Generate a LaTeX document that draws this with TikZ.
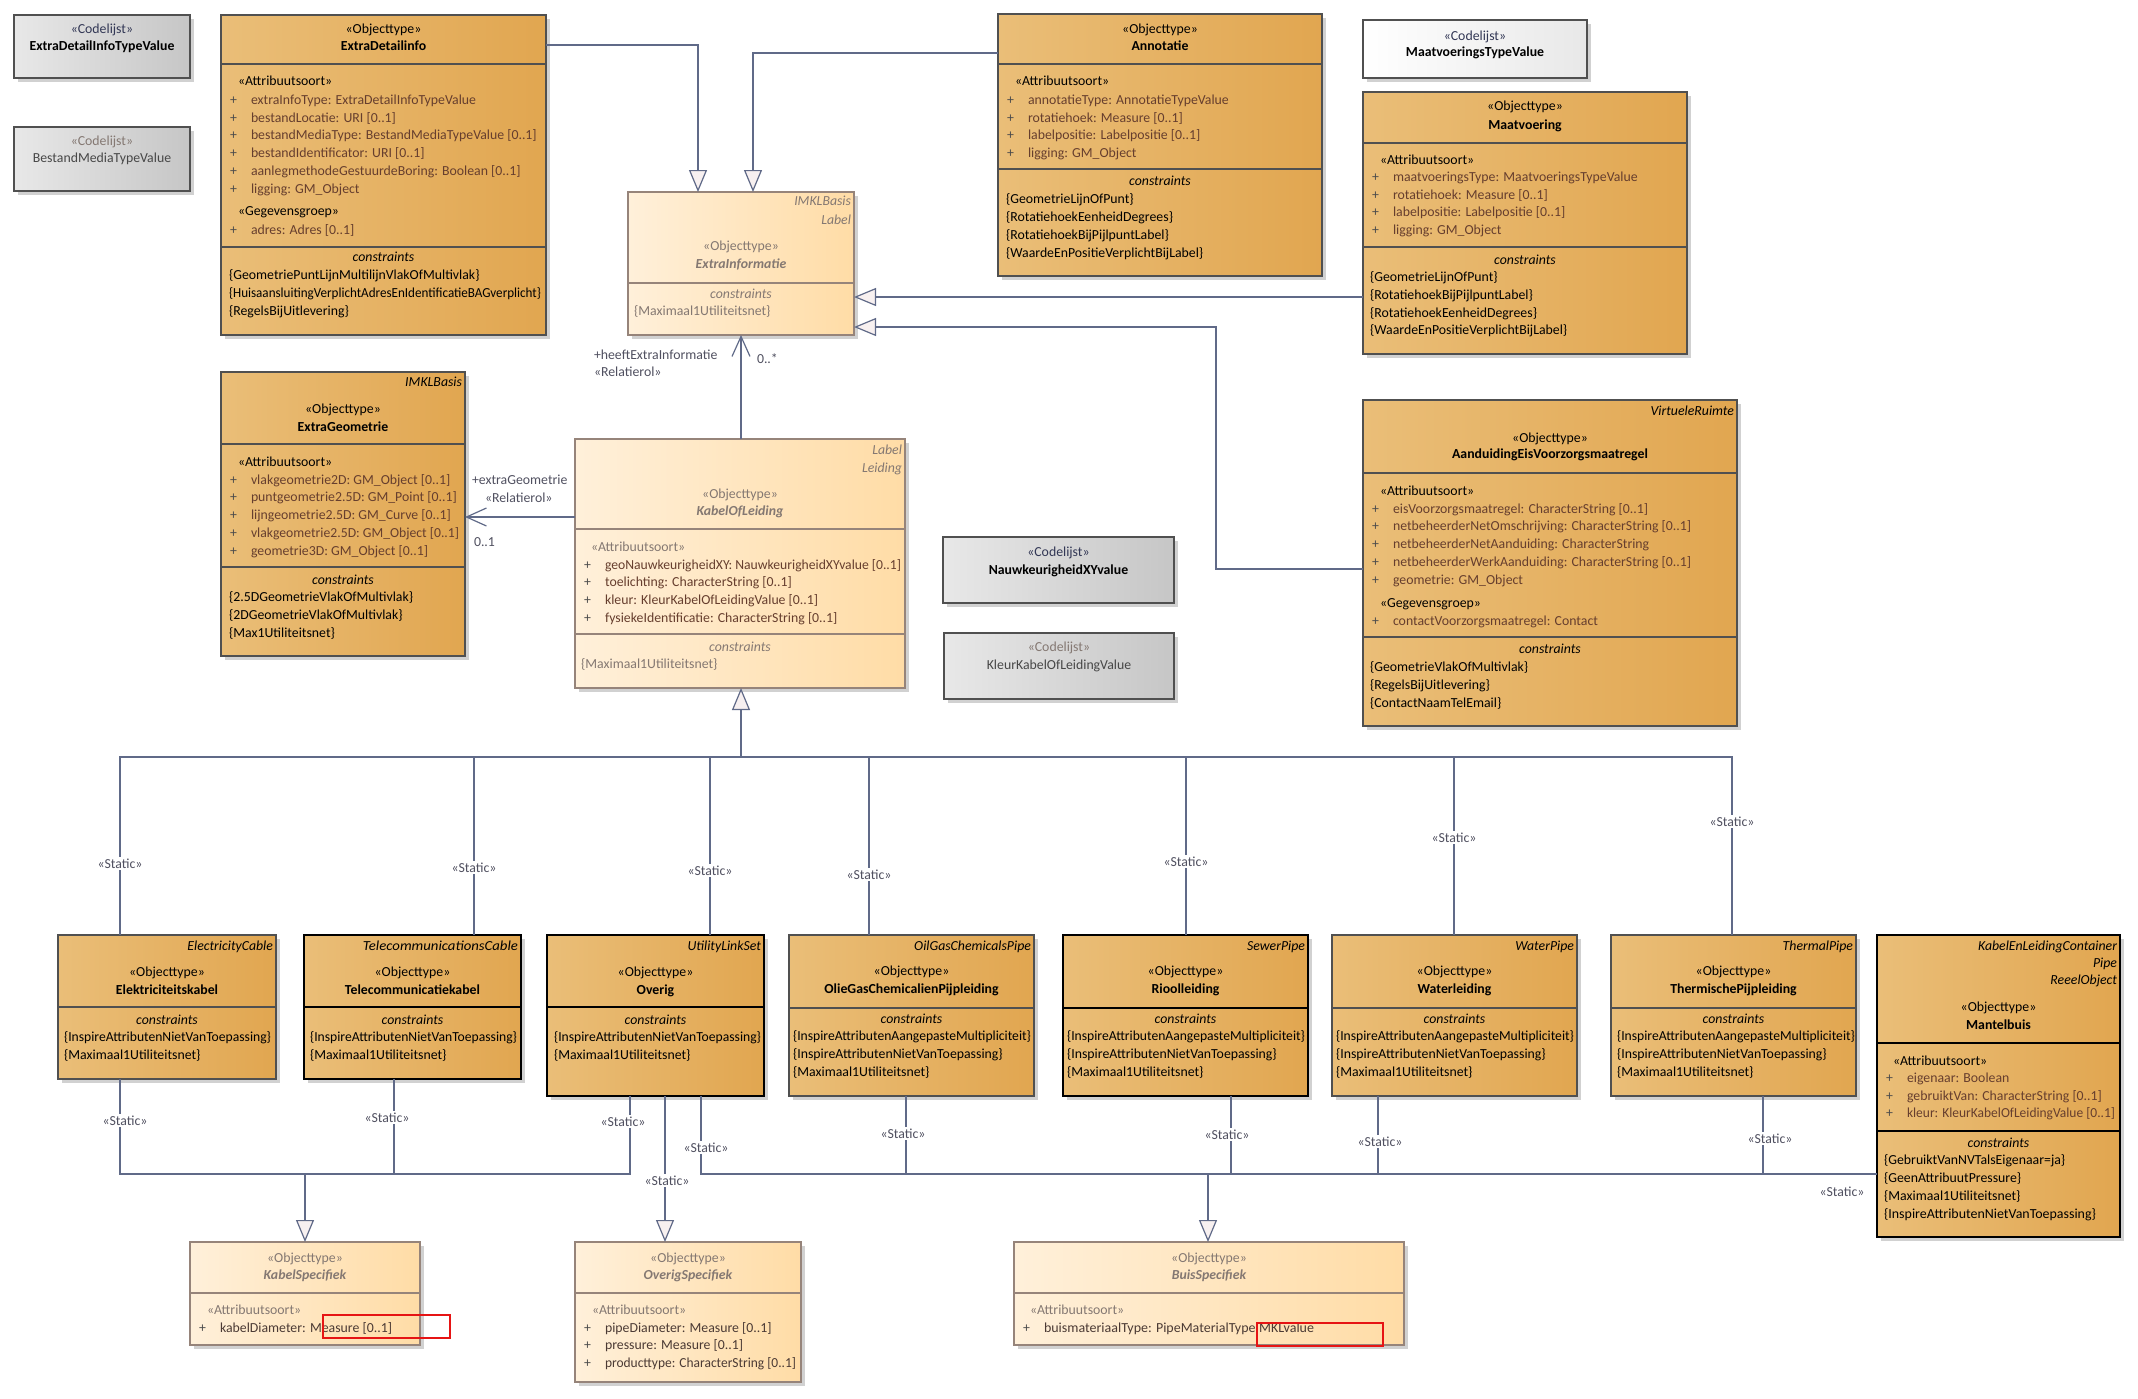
\documentclass[tikz,border=0pt]{standalone}
\usepackage{fontspec}
\setmainfont{Carlito}
\usepackage{graphicx}
\usetikzlibrary{arrows.meta,shadows}
\definecolor{orL}{RGB}{234,190,120}
\definecolor{orR}{RGB}{225,166,80}
\definecolor{peL}{RGB}{255,240,218}
\definecolor{peR}{RGB}{255,220,166}
\definecolor{grL}{RGB}{232,232,232}
\definecolor{grR}{RGB}{198,198,198}
\definecolor{bord}{RGB}{80,80,80}
\definecolor{pbord}{RGB}{150,132,122}
\definecolor{conn}{RGB}{96,106,136}
\definecolor{attrc}{RGB}{102,62,46}
\definecolor{attrd}{RGB}{75,58,52}
\definecolor{gtx}{RGB}{132,120,114}
\definecolor{trif}{RGB}{247,240,240}
\definecolor{lblc}{RGB}{80,80,96}
\definecolor{cdl}{RGB}{50,55,85}
\definecolor{redc}{RGB}{230,20,20}
\newcommand\fnt{\fontsize{13.8}{18}\selectfont}
\newcounter{tn}
\newcommand\Tx[3]{\stepcounter{tn}\node[#1] (tx\thetn) at (#2) {#3};}
\newcommand\Pl[4]{\Tx{ulw,pls}{#1+9,#2}{+}\Tx{ulw,#3}{#1+30,#2}{#4}}
\newcommand\Bx[6]{\node[#1,minimum width=#4pt,minimum height=#5pt] (#6) at (#2,#3) {};}
\newcommand\Dv[3][]{\draw[divl,#1] (#2.west |- 0,#3) -- (#2.east |- 0,#3);}
\newcommand\sqz[2]{\resizebox{#1}{\height}{#2}}
\begin{document}
\begin{tikzpicture}[x=1pt,y=-1pt,
 ubase/.style={inner sep=0pt,outer sep=0pt,font=\fnt,text=black},
 ulw/.style={ubase,anchor=mid west},
 uct/.style={ubase,anchor=mid},
 urt/.style={ubase,anchor=mid east},
 pls/.style={text=black!70},
 atr/.style={text=attrc},
 atd/.style={text=attrd},
 nm/.style={font=\fnt\bfseries},
 uit/.style={font=\fnt\itshape},
 bit/.style={font=\fnt\bfseries\itshape},
 gx/.style={text=gtx},
 ubox/.style={draw=bord,line width=1.2pt,inner sep=0pt,outer sep=0pt,anchor=north west,
   drop shadow={shadow xshift=4pt,shadow yshift=-4pt,fill=black!18,opacity=1}},
 obj/.style={ubox,left color=orL,right color=orR},
 pea/.style={ubox,draw=pbord,left color=peL,right color=peR},
 cod/.style={ubox,left color=grL,right color=grR},
 codw/.style={ubox,left color=white,right color=black!9},
 sel/.style={draw=black,line width=2pt},
 divl/.style={draw=bord,line width=1.2pt},
 pdiv/.style={draw=pbord},
 cn/.style={draw=conn,line width=1.2pt},
 gen/.style={cn,-{Triangle[length=22pt,width=18pt,fill=trif]}},
 asc/.style={cn,-{Straight Barb[length=20pt,width=18pt]}},
 stl/.style={ubase,anchor=mid,fill=white,text=lblc,inner sep=1.5pt},
 lbl/.style={ulw,text=lblc},
 redbox/.style={draw=redc,line width=1.3pt,anchor=north west,inner sep=0pt,outer sep=0pt}
]
\useasboundingbox (0,0) rectangle (2138,1398);
\fill[white] (0,0) rectangle (2138,1398);

% ---------- code lists ----------
\Bx{cod}{14}{15}{176}{63}{cl1}
\Tx{uct,text=cdl}{cl1.north |- 0,31}{«Codelijst»}
\Tx{uct,nm}{cl1.north |- 0,48}{ExtraDetailInfoTypeValue}
\Bx{cod}{14}{127}{176}{64}{cl2}
\Tx{uct,gx}{cl2.north |- 0,143}{«Codelijst»}
\Tx{uct,text=black!72}{cl2.north |- 0,160}{BestandMediaTypeValue}

% ---------- ExtraDetailinfo ----------
\Bx{obj}{221}{15}{325}{320}{edi}
\Dv{edi}{64}\Dv{edi}{247}
\Tx{uct}{edi.north |- 0,31}{«Objecttype»}
\Tx{uct,nm}{edi.north |- 0,48}{ExtraDetailinfo}
\Tx{ulw}{238,83}{«Attribuutsoort»}
\Pl{221}{102}{atr}{extraInfoType: ExtraDetailInfoTypeValue}
\Pl{221}{120}{atr}{bestandLocatie: URI [0..1]}
\Pl{221}{137}{atr}{bestandMediaType: BestandMediaTypeValue [0..1]}
\Pl{221}{155}{atr}{bestandIdentificator: URI [0..1]}
\Pl{221}{173}{atr}{aanlegmethodeGestuurdeBoring: Boolean [0..1]}
\Pl{221}{191}{atr}{ligging: GM\_Object}
\Tx{ulw}{238,213}{«Gegevensgroep»}
\Pl{221}{232}{atr}{adres: Adres [0..1]}
\Tx{uct,uit}{edi.north |- 0,259}{constraints}
\Tx{ulw}{229,277}{\{GeometriePuntLijnMultilijnVlakOfMultivlak\}}
\Tx{ulw}{229,295}{\sqz{312pt}{\{HuisaansluitingVerplichtAdresEnIdentificatieBAGverplicht\}}}
\Tx{ulw}{229,313}{\{RegelsBijUitlevering\}}

% ---------- ExtraInformatie ----------
\Bx{pea}{628}{192}{226}{143}{exi}
\Dv[pdiv]{exi}{283}
\Tx{urt,uit,gx}{851,203}{IMKLBasis}
\Tx{urt,uit,gx}{851,222}{Label}
\Tx{uct,gx}{exi.north |- 0,248}{«Objecttype»}
\Tx{uct,bit,gx}{exi.north |- 0,266}{ExtraInformatie}
\Tx{uct,uit,gx}{exi.north |- 0,296}{constraints}
\Tx{ulw,gx}{634,313}{\{Maximaal1Utiliteitsnet\}}

% ---------- Annotatie ----------
\Bx{obj}{998}{14}{324}{262}{ann}
\Dv{ann}{64}\Dv{ann}{169}
\Tx{uct}{ann.north |- 0,31}{«Objecttype»}
\Tx{uct,nm}{ann.north |- 0,48}{Annotatie}
\Tx{ulw}{1015,83}{«Attribuutsoort»}
\Pl{998}{102}{atr}{annotatieType: AnnotatieTypeValue}
\Pl{998}{120}{atr}{rotatiehoek: Measure [0..1]}
\Pl{998}{137}{atr}{labelpositie: Labelpositie [0..1]}
\Pl{998}{155}{atr}{ligging: GM\_Object}
\Tx{uct,uit}{ann.north |- 0,183}{constraints}
\Tx{ulw}{1006,201}{\{GeometrieLijnOfPunt\}}
\Tx{ulw}{1006,219}{\{RotatiehoekEenheidDegrees\}}
\Tx{ulw}{1006,237}{\{RotatiehoekBijPijlpuntLabel\}}
\Tx{ulw}{1006,255}{\{WaardeEnPositieVerplichtBijLabel\}}

% ---------- Maatvoering ----------
\Bx{codw}{1363}{20}{224}{58}{mtv}
\Tx{uct,text=cdl}{mtv.north |- 0,38}{«Codelijst»}
\Tx{uct,nm}{mtv.north |- 0,54}{MaatvoeringsTypeValue}
\Bx{obj}{1363}{92}{324}{262}{maa}
\Dv{maa}{143}\Dv{maa}{247}
\Tx{uct}{maa.north |- 0,108}{«Objecttype»}
\Tx{uct,nm}{maa.north |- 0,127}{Maatvoering}
\Tx{ulw}{1380,162}{«Attribuutsoort»}
\Pl{1363}{179}{atr}{maatvoeringsType: MaatvoeringsTypeValue}
\Pl{1363}{197}{atr}{rotatiehoek: Measure [0..1]}
\Pl{1363}{214}{atr}{labelpositie: Labelpositie [0..1]}
\Pl{1363}{232}{atr}{ligging: GM\_Object}
\Tx{uct,uit}{maa.north |- 0,262}{constraints}
\Tx{ulw}{1370,279}{\{GeometrieLijnOfPunt\}}
\Tx{ulw}{1370,297}{\{RotatiehoekBijPijlpuntLabel\}}
\Tx{ulw}{1370,315}{\{RotatiehoekEenheidDegrees\}}
\Tx{ulw}{1370,332}{\{WaardeEnPositieVerplichtBijLabel\}}

% ---------- ExtraGeometrie ----------
\Bx{obj}{221}{372}{244}{284}{exg}
\Dv{exg}{444}\Dv{exg}{567}
\Tx{urt,uit}{462,384}{IMKLBasis}
\Tx{uct}{exg.north |- 0,411}{«Objecttype»}
\Tx{uct,nm}{exg.north |- 0,429}{ExtraGeometrie}
\Tx{ulw}{238,464}{«Attribuutsoort»}
\Pl{221}{482}{atr}{vlakgeometrie2D: GM\_Object [0..1]}
\Pl{221}{499}{atr}{puntgeometrie2.5D: GM\_Point [0..1]}
\Pl{221}{517}{atr}{lijngeometrie2.5D: GM\_Curve [0..1]}
\Pl{221}{535}{atr}{\sqz{208pt}{vlakgeometrie2.5D: GM\_Object [0..1]}}
\Pl{221}{553}{atr}{geometrie3D: GM\_Object [0..1]}
\Tx{uct,uit}{exg.north |- 0,582}{constraints}
\Tx{ulw}{229,599}{\{2.5DGeometrieVlakOfMultivlak\}}
\Tx{ulw}{229,617}{\{2DGeometrieVlakOfMultivlak\}}
\Tx{ulw}{229,635}{\{Max1Utiliteitsnet\}}

% ---------- KabelOfLeiding ----------
\Bx{pea}{575}{439}{330}{249}{kol}
\Dv[pdiv]{kol}{529}\Dv[pdiv]{kol}{634}
\Tx{urt,uit,gx}{902,452}{Label}
\Tx{urt,uit,gx}{902,470}{Leiding}
\Tx{uct,gx}{kol.north |- 0,496}{«Objecttype»}
\Tx{uct,bit,gx}{kol.north |- 0,513}{KabelOfLeiding}
\Tx{ulw,gx}{591,549}{«Attribuutsoort»}
\Pl{575}{567}{atr}{\sqz{296pt}{geoNauwkeurigheidXY: NauwkeurigheidXYvalue [0..1]}}
\Pl{575}{584}{atr}{toelichting: CharacterString [0..1]}
\Pl{575}{602}{atr}{kleur: KleurKabelOfLeidingValue [0..1]}
\Pl{575}{620}{atr}{fysiekeIdentificatie: CharacterString [0..1]}
\Tx{uct,uit,gx}{kol.north |- 0,649}{constraints}
\Tx{ulw,gx}{581,666}{\{Maximaal1Utiliteitsnet\}}

% ---------- code lists middle ----------
\Bx{cod}{943}{537}{231}{66}{nxy}
\Tx{uct,text=cdl}{nxy.north |- 0,554}{«Codelijst»}
\Tx{uct,nm}{nxy.north |- 0,572}{NauwkeurigheidXYvalue}
\Bx{cod}{944}{633}{230}{66}{kkl}
\Tx{uct,gx}{kkl.north |- 0,649}{«Codelijst»}
\Tx{uct,text=black!72}{kkl.north |- 0,667}{KleurKabelOfLeidingValue}

% ---------- AanduidingEisVoorzorgsmaatregel ----------
\Bx{obj}{1363}{400}{374}{326}{aev}
\Dv{aev}{473}\Dv{aev}{637}
\Tx{urt,uit}{1734,413}{VirtueleRuimte}
\Tx{uct}{aev.north |- 0,440}{«Objecttype»}
\Tx{uct,nm}{aev.north |- 0,456}{AanduidingEisVoorzorgsmaatregel}
\Tx{ulw}{1380,493}{«Attribuutsoort»}
\Pl{1363}{511}{atr}{eisVoorzorgsmaatregel: CharacterString [0..1]}
\Pl{1363}{528}{atr}{netbeheerderNetOmschrijving: CharacterString [0..1]}
\Pl{1363}{546}{atr}{netbeheerderNetAanduiding: CharacterString}
\Pl{1363}{564}{atr}{netbeheerderWerkAanduiding: CharacterString [0..1]}
\Pl{1363}{582}{atr}{geometrie: GM\_Object}
\Tx{ulw}{1380,605}{«Gegevensgroep»}
\Pl{1363}{623}{atr}{contactVoorzorgsmaatregel: Contact}
\Tx{uct,uit}{aev.north |- 0,651}{constraints}
\Tx{ulw}{1370,669}{\{GeometrieVlakOfMultivlak\}}
\Tx{ulw}{1370,687}{\{RegelsBijUitlevering\}}
\Tx{ulw}{1370,705}{\{ContactNaamTelEmail\}}

% ---------- bottom row ----------
\Bx{obj}{58}{935}{218}{144}{elk}
\Dv{elk}{1007}
\Tx{urt,uit}{273,948}{ElectricityCable}
\Tx{uct}{elk.north |- 0,974}{«Objecttype»}
\Tx{uct,nm}{elk.north |- 0,992}{Elektriciteitskabel}
\Tx{uct,uit}{elk.north |- 0,1022}{constraints}
\Tx{ulw}{64,1039}{\sqz{207pt}{\{InspireAttributenNietVanToepassing\}}}
\Tx{ulw}{64,1057}{\{Maximaal1Utiliteitsnet\}}

\Bx{obj,sel}{304}{935}{217}{144}{tel}
\Dv[sel]{tel}{1007}
\Tx{urt,uit}{518,948}{\sqz{155pt}{TelecommunicationsCable}}
\Tx{uct}{tel.north |- 0,974}{«Objecttype»}
\Tx{uct,nm}{tel.north |- 0,992}{Telecommunicatiekabel}
\Tx{uct,uit}{tel.north |- 0,1022}{constraints}
\Tx{ulw}{310,1039}{\sqz{207pt}{\{InspireAttributenNietVanToepassing\}}}
\Tx{ulw}{310,1057}{\{Maximaal1Utiliteitsnet\}}

\Bx{obj,sel}{547}{935}{217}{161}{ovr}
\Dv[sel]{ovr}{1007}
\Tx{urt,uit}{761,948}{UtilityLinkSet}
\Tx{uct}{ovr.north |- 0,974}{«Objecttype»}
\Tx{uct,nm}{ovr.north |- 0,992}{Overig}
\Tx{uct,uit}{ovr.north |- 0,1022}{constraints}
\Tx{ulw}{554,1039}{\sqz{207pt}{\{InspireAttributenNietVanToepassing\}}}
\Tx{ulw}{554,1057}{\{Maximaal1Utiliteitsnet\}}

\Bx{obj}{789}{935}{245}{161}{ogc}
\Dv{ogc}{1008}
\Tx{urt,uit}{1031,948}{OilGasChemicalsPipe}
\Tx{uct}{ogc.north |- 0,973}{«Objecttype»}
\Tx{uct,nm}{ogc.north |- 0,991}{OlieGasChemicalienPijpleiding}
\Tx{uct,uit}{ogc.north |- 0,1021}{constraints}
\Tx{ulw}{793,1038}{\sqz{238pt}{\{InspireAttributenAangepasteMultipliciteit\}}}
\Tx{ulw}{793,1056}{\{InspireAttributenNietVanToepassing\}}
\Tx{ulw}{793,1074}{\{Maximaal1Utiliteitsnet\}}

\Bx{obj,sel}{1063}{935}{245}{161}{rio}
\Dv[sel]{rio}{1008}
\Tx{urt,uit}{1305,948}{SewerPipe}
\Tx{uct}{rio.north |- 0,973}{«Objecttype»}
\Tx{uct,nm}{rio.north |- 0,991}{Rioolleiding}
\Tx{uct,uit}{rio.north |- 0,1021}{constraints}
\Tx{ulw}{1067,1038}{\sqz{238pt}{\{InspireAttributenAangepasteMultipliciteit\}}}
\Tx{ulw}{1067,1056}{\{InspireAttributenNietVanToepassing\}}
\Tx{ulw}{1067,1074}{\{Maximaal1Utiliteitsnet\}}

\Bx{obj}{1332}{935}{245}{161}{wat}
\Dv{wat}{1008}
\Tx{urt,uit}{1574,948}{WaterPipe}
\Tx{uct}{wat.north |- 0,973}{«Objecttype»}
\Tx{uct,nm}{wat.north |- 0,991}{Waterleiding}
\Tx{uct,uit}{wat.north |- 0,1021}{constraints}
\Tx{ulw}{1336,1038}{\sqz{238pt}{\{InspireAttributenAangepasteMultipliciteit\}}}
\Tx{ulw}{1336,1056}{\{InspireAttributenNietVanToepassing\}}
\Tx{ulw}{1336,1074}{\{Maximaal1Utiliteitsnet\}}

\Bx{obj}{1611}{935}{245}{161}{the}
\Dv{the}{1008}
\Tx{urt,uit}{1853,948}{ThermalPipe}
\Tx{uct}{the.north |- 0,973}{«Objecttype»}
\Tx{uct,nm}{the.north |- 0,991}{ThermischePijpleiding}
\Tx{uct,uit}{the.north |- 0,1021}{constraints}
\Tx{ulw}{1617,1038}{\sqz{238pt}{\{InspireAttributenAangepasteMultipliciteit\}}}
\Tx{ulw}{1617,1056}{\{InspireAttributenNietVanToepassing\}}
\Tx{ulw}{1617,1074}{\{Maximaal1Utiliteitsnet\}}

\Bx{obj,sel}{1877}{935}{243}{302}{man}
\Dv[sel]{man}{1043}\Dv[sel]{man}{1131}
\Tx{urt,uit}{2117,948}{KabelEnLeidingContainer}
\Tx{urt,uit}{2117,965}{Pipe}
\Tx{urt,uit}{2117,982}{ReeelObject}
\Tx{uct}{man.north |- 0,1009}{«Objecttype»}
\Tx{uct,nm}{man.north |- 0,1027}{Mantelbuis}
\Tx{ulw}{1893,1063}{«Attribuutsoort»}
\Pl{1877}{1080}{atr}{eigenaar: Boolean}
\Pl{1877}{1098}{atr}{gebruiktVan: CharacterString [0..1]}
\Pl{1877}{1115}{atr}{\sqz{208pt}{kleur: KleurKabelOfLeidingValue [0..1]}}
\Tx{uct,uit}{man.north |- 0,1145}{constraints}
\Tx{ulw}{1884,1162}{\{GebruiktVanNVTalsEigenaar=ja\}}
\Tx{ulw}{1884,1180}{\{GeenAttribuutPressure\}}
\Tx{ulw}{1884,1198}{\{Maximaal1Utiliteitsnet\}}
\Tx{ulw}{1884,1216}{\sqz{212pt}{\{InspireAttributenNietVanToepassing\}}}

% ---------- specific (abstract) ----------
\Bx{pea}{190}{1242}{230}{103}{kbs}
\Dv[pdiv]{kbs}{1293}
\Tx{uct,gx}{kbs.north |- 0,1260}{«Objecttype»}
\Tx{uct,bit,gx}{kbs.north |- 0,1277}{KabelSpecifiek}
\Tx{ulw,gx}{207,1312}{«Attribuutsoort»}
\Pl{190}{1330}{atd}{kabelDiameter: Measure [0..1]}

\Bx{pea}{575}{1242}{226}{140}{ovs}
\Dv[pdiv]{ovs}{1293}
\Tx{uct,gx}{ovs.north |- 0,1260}{«Objecttype»}
\Tx{uct,bit,gx}{ovs.north |- 0,1277}{OverigSpecifiek}
\Tx{ulw,gx}{592,1312}{«Attribuutsoort»}
\Pl{575}{1330}{atd}{pipeDiameter: Measure [0..1]}
\Pl{575}{1347}{atd}{pressure: Measure [0..1]}
\Pl{575}{1365}{atd}{\sqz{191pt}{producttype: CharacterString [0..1]}}

\Bx{pea}{1014}{1242}{390}{103}{bsp}
\Dv[pdiv]{bsp}{1293}
\Tx{uct,gx}{bsp.north |- 0,1260}{«Objecttype»}
\Tx{uct,bit,gx}{bsp.north |- 0,1277}{BuisSpecifiek}
\Tx{ulw,gx}{1030,1312}{«Attribuutsoort»}
\Pl{1014}{1330}{atd}{\sqz{270pt}{buismateriaalType: PipeMaterialTypeIMKLvalue}}

\node[redbox,minimum width=127pt,minimum height=23pt] (rb1) at (323,1315) {};
\node[redbox,minimum width=126pt,minimum height=23pt] (rb2) at (1257,1323) {};

% ---------- connectors: upper part ----------
\draw[gen] (edi.east |- 0,45) -| (exi.north -| 698,0);
\draw[gen] (ann.west |- 0,53) -| (exi.north -| 753,0);
\draw[gen] (maa.west |- 0,297) -- (exi.east |- 0,297);
\coordinate (c1) at (1216,569);
\coordinate (c2) at (1216,327);
\draw[gen] (aev.west |- c1) -- (c1) -- (c2) -- (exi.east |- c2);
\draw[asc] (kol.north -| 741,0) -- (exi.south -| 741,0);
\draw[asc] (kol.west |- 0,517) -- (exg.east |- 0,517);

% ---------- generalisation tree ----------
\coordinate (bt) at (741,757);
\draw[gen] (bt) -- (kol.south -| bt);
\draw[cn] (elk.north -| 120,0) -- (120,757) -- (1732,757) -- (the.north -| 1732,0);
\foreach \n/\x in {tel/474,ovr/710,ogc/869,rio/1186,wat/1454}
  \draw[cn] (\n.north -| \x,0) -- (\x,757);

\coordinate (bk) at (305,1174);
\draw[cn] (elk.south -| 120,0) -- (120,1174) -- (630,1174) -- (ovr.south -| 630,0);
\draw[cn] (tel.south -| 394,0) -- (394,1174);
\draw[gen] (bk) -- (kbs.north -| bk);
\draw[gen] (ovr.south -| 665,0) -- (ovs.north -| 665,0);
\coordinate (bb) at (1208,1174);
\draw[cn] (ovr.south -| 701,0) -- (701,1174) -- (man.west |- bb);
\foreach \n/\x in {ogc/906,rio/1231,wat/1378,the/1763}
  \draw[cn] (\n.south -| \x,0) -- (\x,1174);
\draw[gen] (bb) -- (bsp.north -| bb);

% ---------- labels ----------
\Tx{lbl}{594,357}{+heeftExtraInformatie}
\Tx{lbl}{594,374}{«Relatierol»}
\Tx{lbl}{757,361}{0..*}
\Tx{lbl}{472,482}{+extraGeometrie}
\Tx{lbl}{485,500}{«Relatierol»}
\Tx{lbl}{474,544}{0..1}

\foreach \p [count=\i] in {{120,866},{474,870},{710,873},{869,877},{1186,864},{1454,840},{1732,824},
  {125,1123},{387,1120},{623,1124},{667,1183},{706,1150},{903,1136},{1227,1137},{1380,1144},{1770,1141}}
  \node[stl] (st\i) at (\p) {«Static»};
\node[stl,fill=none] (st17) at (1842,1194) {«Static»};
\end{tikzpicture}
\end{document}
